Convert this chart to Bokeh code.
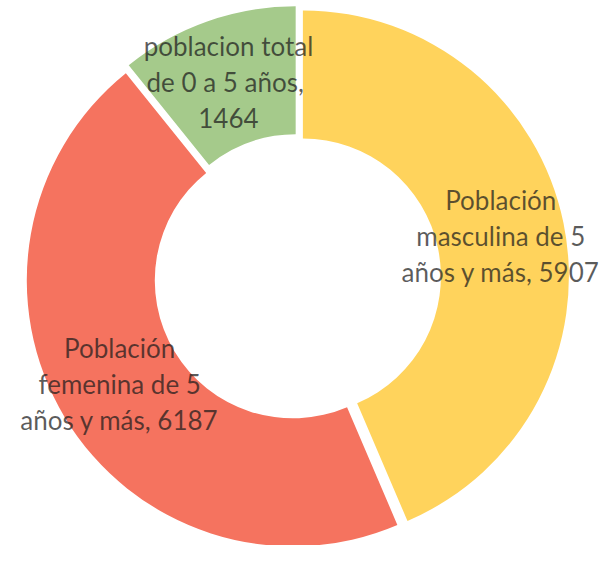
import math
from bokeh.plotting import figure
from bokeh.models import ColumnDataSource, Range1d
from bokeh.core.properties import value
from bokeh.embed import file_html
from bokeh.resources import INLINE

# ---- data ----
categories = [
    "Población masculina de 5 años y más",
    "Población femenina de 5 años y más",
    "poblacion total de 0 a 5  años",
]
values = [5907, 6187, 1464]
label_lines = [
    ["Población", "masculina de 5", "años y más, {v}"],
    ["Población", "femenina de 5", "años y más, {v}"],
    ["poblacion total", "de 0 a 5  años,", "{v}"],
]
colors = ["#FFD35C", "#F5735F", "#A5CA8B"]

# ---- layout / style ----
W, H = 600, 545
CX, CY = 297, 277          # donut centre, pixels from figure left / top
R_OUT, R_IN = 266, 138
EXPLODE = 5.5
LINE_STEP = 36
FONT = "Lato"
FONT_SIZE = "26px"

total = float(sum(values))
xs, ys, starts, ends = [], [], [], []
tx, ty, tt = [], [], []
cum = 0.0
for v, lines in zip(values, label_lines):
    t0 = cum / total * 2 * math.pi
    t1 = (cum + v) / total * 2 * math.pi
    cum += v
    mid = (t0 + t1) / 2
    ox, oy = EXPLODE * math.sin(mid), EXPLODE * math.cos(mid)
    xs.append(ox)
    ys.append(oy)
    starts.append(math.pi / 2 - t0)
    ends.append(math.pi / 2 - t1)
    rm = (R_OUT + R_IN) / 2
    lx, ly = ox + rm * math.sin(mid), oy + rm * math.cos(mid)
    n = len(lines)
    for i, ln in enumerate(lines):
        tx.append(lx)
        ty.append(ly - (i - (n - 1) / 2) * LINE_STEP)
        tt.append(ln.format(v=v))

src = ColumnDataSource(dict(x=xs, y=ys, start=starts, end=ends, color=colors, name=categories, value=values))
tsrc = ColumnDataSource(dict(x=tx, y=ty, text=tt))

p = figure(width=W, height=H,
           x_range=Range1d(-CX, W - CX), y_range=Range1d(-(H - CY), CY),
           output_backend="svg", toolbar_location=None, min_border=0)
p.axis.visible = False
p.grid.visible = False
p.outline_line_color = None
p.background_fill_color = "white"
p.border_fill_color = "white"

p.annular_wedge(x="x", y="y", inner_radius=R_IN, outer_radius=R_OUT,
                start_angle="start", end_angle="end", direction="clock",
                fill_color="color", line_color=None, source=src)

p.text(x="x", y="y", text="text", source=tsrc,
       text_align="center", text_baseline="middle",
       text_font=value(FONT), text_font_size=FONT_SIZE,
       text_color="#1c1c1c", text_alpha=0.72)

open("out.html", "w").write(file_html(p, INLINE))
